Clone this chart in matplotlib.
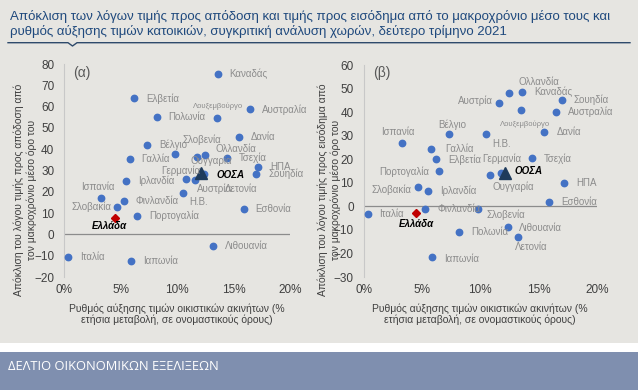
import matplotlib.pyplot as plt
from matplotlib.patches import Rectangle
from matplotlib.lines import Line2D

plt.rcParams['font.family'] = ['Liberation Sans', 'DejaVu Sans']

# données (T2 2021)
countries = ['Καναδάς', 'Ελβετία', 'Αυστραλία', 'Πολωνία', 'Λουξεμβούργο', 'Δανία',
             'Βέλγιο', 'Γαλλία', 'Σλοβενία', 'Ουγγαρία', 'Ολλανδία', 'Τσεχία', 'ΗΠΑ',
             'Σουηδία', 'Γερμανία', 'Αυστρία', 'Λετονία', 'Λιθουανία', 'Ιρλανδία',
             'Ισπανία', 'Η.Β.', 'Φινλανδία', 'Σλοβακία', 'Εσθονία', 'Πορτογαλία',
             'Ιταλία', 'Ιαπωνία', 'ΟΟΣΑ', 'Ελλάδα']
growth = [13.6, 6.2, 16.5, 8.2, 13.5, 15.5, 7.35, 5.8, 9.8, 11.8, 12.5, 14.4, 17.2,
          17.0, 10.8, 11.6, 12.4, 13.2, 5.5, 3.3, 10.5, 5.3, 4.7, 15.9, 6.5,
          0.35, 5.9, 12.1, 4.5]
price_rent = [75.2, 63.9, 58.7, 55.0, 54.5, 45.6, 42.0, 35.4, 37.7, 36.5, 37.3, 35.9, 31.8,
              28.4, 26.0, 25.5, 28.2, -5.3, 25.1, 17.2, 19.6, 15.7, 13.0, 11.9, 8.8,
              -10.8, -12.3, 28.7, 7.8]
price_income = [48.6, 19.9, 40.0, -10.9, 41.0, 31.4, 30.7, 24.2, -1.3, 14.3, 48.2, 20.4, 10.0,
                45.1, 13.4, 44.0, -8.7, -13.2, 6.5, 27.0, 30.7, -1.3, 8.1, 1.7, 14.9,
                -3.4, -21.6, 14.3, -2.7]

# décalages des étiquettes (pixels), par défaut à droite du point
left_offsets = {
    'Λουξεμβούργο': (-24, 12, 'left'), 'Σλοβενία': (8, 14, 'left'),
    'Ολλανδία': (10, 6, 'left'), 'Ουγγαρία': (-7, -4, 'left'),
    'Γερμανία': (-25, 8, 'left'), 'ΟΟΣΑ': (16, -2, 'left'),
    'Αυστρία': (2, -9, 'left'), 'Λετονία': (21, -15, 'left'),
    'Ισπανία': (-20, 11, 'left'), 'Η.Β.': (7, -9, 'left'),
    'Σλοβακία': (-6, 0, 'right'), 'Ελλάδα': (-5, -8, 'center'),
}
right_offsets = {
    'Ολλανδία': (9, 11, 'left'), 'Αυστρία': (-6, 2, 'right'),
    'Λουξεμβούργο': (-21, -14, 'left'), 'Βέλγιο': (-11, 9, 'left'),
    'Ισπανία': (-21, 11, 'left'), 'Η.Β.': (6, -10, 'left'),
    'Γαλλία': (14, 0, 'left'), 'Γερμανία': (-7, 16, 'left'),
    'Πορτογαλία': (-10, -1, 'right'), 'ΟΟΣΑ': (10, 2, 'left'),
    'Ουγγαρία': (-9, -14, 'left'), 'Σλοβακία': (-7, -2, 'right'),
    'Σλοβενία': (9, -5, 'left'), 'Ελλάδα': (0, -11, 'center'),
    'Λιθουανία': (1, 9, 'left'), 'Λετονία': (7, -20, 'left'),
    'Ιαπωνία': (12, -2, 'left'),
}

BG = '#e6e5e1'
W, H = 638, 390
fig = plt.figure(figsize=(W / 100, H / 100), dpi=100, facecolor=BG)

# bandeau du bas
fig.patches.append(Rectangle((0, 38 / H), 1, 9 / H, transform=fig.transFigure,
                             facecolor='white', edgecolor='none', zorder=0))
fig.patches.append(Rectangle((0, 0), 1, 38 / H, transform=fig.transFigure,
                             facecolor='#7f8faf', edgecolor='none', zorder=0))
fig.text(8 / W, 1 - 366 / H, 'ΔΕΛΤΙΟ ΟΙΚΟΝΟΜΙΚΩΝ ΕΞΕΛΙΞΕΩΝ', color='white',
         fontsize=9.3, family=['Open Sans', 'DejaVu Sans'], va='center', ha='left')

# titre
fig.text(10 / W, 1 - 24 / H,
         'Απόκλιση των λόγων τιμής προς απόδοση και τιμής προς εισόδημα από το μακροχρόνιο μέσο τους και\n'
         'ρυθμός αύξησης τιμών κατοικιών, συγκριτική ανάλυση χωρών, δεύτερο τρίμηνο 2021',
         color='#1f497d', fontsize=9.5, va='center', ha='left', linespacing=1.15)
xs = [8, 68, 72.5, 77, 630]
ys = [42.7, 42.7, 46, 42.7, 42.7]
fig.lines.append(Line2D([x / W for x in xs], [1 - y / H for y in ys],
                        transform=fig.transFigure, color='#2e4a6b', lw=1.0))


def draw_panel(ax, values, offsets, letter, ymin, ymax):
    ax.set_facecolor(BG)
    ax.set_xlim(0, 20)
    ax.set_ylim(ymin, ymax)
    for s in ['top', 'right', 'bottom']:
        ax.spines[s].set_visible(False)
    ax.spines['left'].set_color('#c8c8c8')
    ax.axhline(0, color='#8c8c8c', lw=0.9, zorder=1)
    ax.set_xticks(range(0, 21, 5))
    ax.set_xticklabels([f'{t}%' for t in range(0, 21, 5)])
    ax.set_yticks(range(ymin, ymax + 1, 10))
    ax.tick_params(axis='x', length=0, pad=5, labelsize=8.5, labelcolor='#404040')
    ax.tick_params(axis='y', length=0, pad=7, labelsize=8.5, labelcolor='#404040')

    for name, x, y in zip(countries, growth, values):
        if name == 'ΟΟΣΑ':
            ax.plot(x, y, marker='^', ms=8.5, color='#1f3b5c', clip_on=False, zorder=4)
        elif name == 'Ελλάδα':
            ax.plot(x, y, marker='D', ms=4.5, color='#c00000', clip_on=False, zorder=4)
        else:
            ax.plot(x, y, marker='o', ms=4.6, color='#4472c4', clip_on=False, zorder=3)
        dx, dy, ha = offsets.get(name, (12, 0, 'left'))
        style = dict(color='#8c8c8c', fontsize=7)
        if name in ('ΟΟΣΑ', 'Ελλάδα'):
            style = dict(color='black', fontsize=7, fontweight='bold', fontstyle='italic')
        elif name == 'Λουξεμβούργο':
            style = dict(color='#8c8c8c', fontsize=5.5)
        ax.annotate(name, (x, y), xytext=(dx, dy), textcoords='offset pixels',
                    ha=ha, va='center', annotation_clip=False, zorder=5, **style)
    ax.text(0.04, 0.96, letter, transform=ax.transAxes, fontsize=10, color='#595959',
            ha='left', va='center')


ax1 = fig.add_axes([64 / W, 1 - 277 / H, 226 / W, 213 / H])
draw_panel(ax1, price_rent, left_offsets, '(α)', -20, 80)
ax2 = fig.add_axes([363.5 / W, 1 - 277 / H, 233.5 / W, 212 / H])
draw_panel(ax2, price_income, right_offsets, '(β)', -30, 60)

xlabel = 'Ρυθμός αύξησης τιμών οικιστικών ακινήτων (%\nετήσια μεταβολή, σε ονομαστικούς όρους)'
for cx in (177, 480):
    fig.text(cx / W, 1 - 314 / H, xlabel, fontsize=7.5, color='#404040',
             ha='center', va='center', linespacing=1.05)

fig.text(25 / W, 1 - 190 / H,
         'Απόκλιση του λόγου τιμής προς απόδοση από\nτον μακροχρόνιο μέσο όρο του',
         rotation=90, fontsize=7.5, color='#404040', ha='center', va='center', linespacing=1.3)
fig.text(329 / W, 1 - 190 / H,
         'Απόκλιση του λόγου τιμής προς εισόδημα από\nτον μακροχρόνιο μέσο όρο του',
         rotation=90, fontsize=7.5, color='#404040', ha='center', va='center', linespacing=1.3)

fig.savefig('out.png', dpi=100, facecolor=BG)
